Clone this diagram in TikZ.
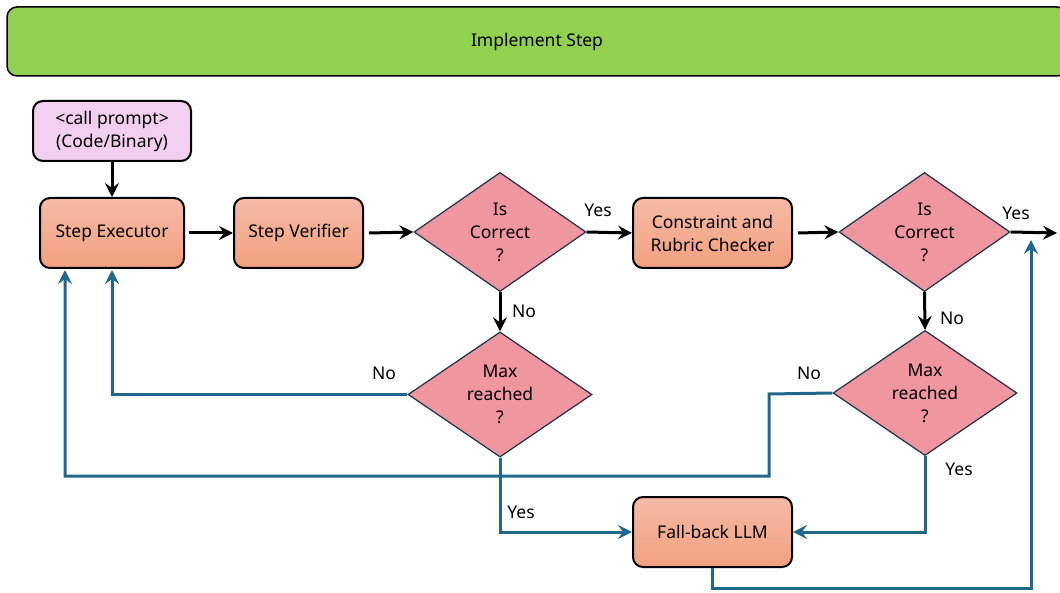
\documentclass[tikz,border=0pt]{standalone}
\usepackage{fontspec}
\setmainfont{Noto Sans}
\usetikzlibrary{shapes.geometric,arrows.meta}
\definecolor{bannergreen}{RGB}{146,208,80}
\definecolor{promptpink}{RGB}{242,206,239}
\definecolor{boxtop}{RGB}{245,186,165}
\definecolor{boxbot}{RGB}{242,160,128}
\definecolor{diafill}{RGB}{240,150,160}
\definecolor{diaedge}{RGB}{30,50,70}
\definecolor{loopblue}{RGB}{31,104,140}
\tikzset{
  txt/.style={font=\fontsize{17.5}{23}\selectfont},
  procbox/.style={draw=black, line width=2pt, rounded corners=10pt, top color=boxtop, bottom color=boxbot, align=center, inner sep=2pt, txt},
  prompt/.style={draw=black, line width=2pt, rounded corners=10pt, fill=promptpink, align=center, inner sep=2pt, txt},
  decision/.style={diamond, draw=diaedge, line width=1.2pt, fill=diafill, align=center, inner sep=0pt, minimum width=172pt, minimum height=116pt, txt},
  flow/.style={line width=3pt, draw=black, -{Stealth[length=14pt,width=14pt,inset=5pt]}},
  back/.style={line width=3pt, draw=loopblue, -{Stealth[length=14pt,width=14pt,inset=5pt]}},
  lab/.style={txt, inner sep=0pt}
}
\begin{document}
\begin{tikzpicture}[x=1pt,y=-1pt]
\useasboundingbox (0,0) rectangle (1060,593);
\node[draw=black, line width=1.5pt, fill=bannergreen, rounded corners=10pt, minimum width=1060pt, minimum height=69pt, txt] (banner) at (537,41.5) {Implement Step};

\node[prompt, minimum width=158pt, minimum height=60pt] (prompt) at (112,131) {<call prompt>\\(Code/Binary)};
\node[procbox, minimum width=144pt, minimum height=70pt] (exec) at (112,233) {Step Executor};
\node[procbox, minimum width=129pt, minimum height=70pt] (verif) at (298.5,233) {Step Verifier};
\node[decision] (d1) at (500,232) {Is\\Correct\\?};
\node[procbox, minimum width=159pt, minimum height=70pt] (cons) at (712.5,233) {Constraint and\\Rubric Checker};
\node[decision, minimum width=171pt] (d2) at (924.5,232) {Is\\Correct\\?};
\node[decision, minimum width=184pt] (d3) at (500,394.5) {Max\\reached\\?};
\node[decision, minimum width=184pt] (d4) at (925,393) {Max\\reached\\?};
\node[procbox, minimum width=159pt, minimum height=70pt] (fb) at (712.5,532) {Fall-back LLM};

\coordinate (out) at (1057,233);
\coordinate (execinA) at (112,270);
\coordinate (execinB) at (65,270);
\coordinate (jogA) at (769,394);
\coordinate (jogB) at (769,476);
\coordinate (fbdown) at (712.5,588);
\coordinate (uptip) at (1031,240);

% main flow
\draw[flow] ([xshift=4pt]exec.east) -- (verif.west);
\draw[flow] (prompt.south) -- (exec.north);
\draw[flow] ([xshift=5pt]verif.east) -- (d1.west);
\draw[flow] (d1.east) -- (cons.west);
\draw[flow] ([xshift=5pt]cons.east) -- (d2.west);
\draw[flow] (d2.east) -- (out);
\draw[flow] (d1.south) -- (d3.north);
\draw[flow] (d2.south) -- (d4.north);

% loops
\draw[back] (d3.west) -| (execinA);
\draw[back] (d4.west) -- (jogA) -- (jogB) -| (execinB);
\draw[back] (d3.south) |- (fb.west);
\draw[back] (d4.south) |- (fb.east);
\draw[back] (fb.south) -- (fbdown) -| (uptip);

% labels
\node[lab] at (598,210) {Yes};
\node[lab] at (1016,213) {Yes};
\node[lab] at (524,311) {No};
\node[lab] at (952,318) {No};
\node[lab] at (384,373) {No};
\node[lab] at (809,373) {No};
\node[lab] at (521,512) {Yes};
\node[lab] at (959,469) {Yes};
\end{tikzpicture}
\end{document}
